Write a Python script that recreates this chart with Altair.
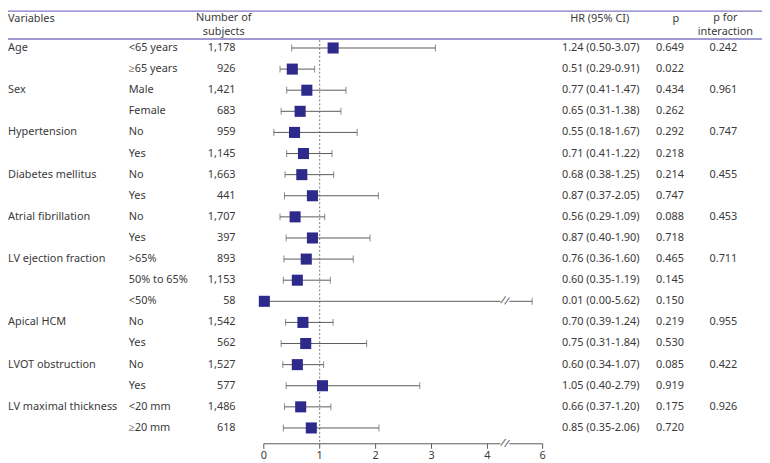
import altair as alt
import pandas as pd

# ---------------- data ----------------
variables = ["Age", "Sex", "Hypertension", "Diabetes mellitus", "Atrial fibrillation",
             "LV ejection fraction", "Apical HCM", "LVOT obstruction", "LV maximal thickness"]
group_of_row = [0, 0, 1, 1, 2, 2, 3, 3, 4, 4, 5, 5, 5, 6, 6, 7, 7, 8, 8]
subgroups = ["<65 years", "\u226565 years", "Male", "Female", "No", "Yes", "No", "Yes", "No", "Yes",
             ">65%", "50% to 65%", "<50%", "No", "Yes", "No", "Yes", "<20 mm", "\u226520 mm"]
n_subjects = ["1,178", "926", "1,421", "683", "959", "1,145", "1,663", "441", "1,707", "397",
              "893", "1,153", "58", "1,542", "562", "1,527", "577", "1,486", "618"]
hr = [1.24, 0.51, 0.77, 0.65, 0.55, 0.71, 0.68, 0.87, 0.56, 0.87, 0.76, 0.60, 0.01, 0.70, 0.75,
      0.60, 1.05, 0.66, 0.85]
ci_lo = [0.50, 0.29, 0.41, 0.31, 0.18, 0.41, 0.38, 0.37, 0.29, 0.40, 0.36, 0.35, 0.00, 0.39, 0.31,
         0.34, 0.40, 0.37, 0.35]
ci_hi = [3.07, 0.91, 1.47, 1.38, 1.67, 1.22, 1.25, 2.05, 1.09, 1.90, 1.60, 1.19, 5.62, 1.24, 1.84,
         1.07, 2.79, 1.20, 2.06]
p_values = ["0.649", "0.022", "0.434", "0.262", "0.292", "0.218", "0.214", "0.747", "0.088", "0.718",
            "0.465", "0.145", "0.150", "0.219", "0.530", "0.085", "0.919", "0.175", "0.720"]
p_interaction = ["0.242", "0.961", "0.747", "0.455", "0.453", "0.711", "0.955", "0.422", "0.926"]
tick_values = [0, 1, 2, 3, 4, 6]
tick_labels = ["0", "1", "2", "3", "4", "6"]

# ---------------- table ----------------
rows = []
for i, g in enumerate(group_of_row):
    first = (i == 0) or (group_of_row[i - 1] != g)
    rows.append({
        "row": i,
        "var": variables[g] if first else "",
        "sub": subgroups[i],
        "n": n_subjects[i],
        "hr": hr[i],
        "lo": ci_lo[i],
        "hi": ci_hi[i],
        "hrtxt": f"{hr[i]:.2f} ({ci_lo[i]:.2f}-{ci_hi[i]:.2f})",
        "p": p_values[i],
        "pint": p_interaction[g] if first else "",
    })
df = pd.DataFrame(rows)
ticks_df = pd.DataFrame({"v": tick_values, "lab": tick_labels})

W, H = 762, 455
FONT = "Noto Sans"
TXT = "#3a3a3a"
LINE = "#5a5a5a"
NAVY = "#2e2a8c"
LAV = "#8178c6"
BREAK = 4.63

xs = alt.Scale(domain=[0, 4, 6], range=[258.5, 484.5, 540.3], nice=False, zero=False)
ys = alt.Scale(domain=[0, 18], range=[38, 422], nice=False, zero=False)

base = alt.Chart(df)
X = lambda f: alt.X(f, scale=xs, axis=None)
Y = alt.Y("row:Q", scale=ys, axis=None)


def txt(field, x, align="left"):
    return base.mark_text(font=FONT, fontSize=11, color=TXT, align=align, baseline="middle").encode(
        x=alt.value(x), y=Y, text=f"{field}:N")


def header(text, x, y, align="center"):
    return alt.Chart(pd.DataFrame({"t": [text]})).mark_text(
        font=FONT, fontSize=11, color=TXT, align=align, baseline="middle").encode(
        x=alt.value(x), y=alt.value(y), text="t:N")


one = pd.DataFrame({"a": [0]})
rule_top = alt.Chart(one).mark_rule(color=LAV, strokeWidth=1.5).encode(
    x=alt.value(0), x2=alt.value(W), y=alt.value(0.75))
rule_head = alt.Chart(one).mark_rule(color=LAV, strokeWidth=1.5).encode(
    x=alt.value(0), x2=alt.value(W), y=alt.value(29))

ref_line = alt.Chart(pd.DataFrame({"v": [1]})).mark_rule(
    color="#777777", strokeDash=[2, 2], strokeWidth=1).encode(
    x=alt.X("v:Q", scale=xs, axis=None), y=alt.value(30), y2=alt.value(438))

ci = base.mark_rule(color=LINE, strokeWidth=1).encode(x=X("lo:Q"), x2="hi:Q", y=Y)
cap_lo = base.mark_tick(orient="vertical", size=7, thickness=1, color=LINE).encode(x=X("lo:Q"), y=Y)
cap_hi = base.mark_tick(orient="vertical", size=7, thickness=1, color=LINE).encode(x=X("hi:Q"), y=Y)

brk_rows = base.transform_filter("datum.hi > 4").transform_calculate(b=str(BREAK))
brk_gap = brk_rows.mark_square(color="white", size=80, opacity=1).encode(x=X("b:Q"), y=Y)
brk_txt = brk_rows.mark_text(text="//", font=FONT, fontSize=11, color=LINE, baseline="middle",
                             angle=15).encode(x=X("b:Q"), y=Y)

squares = base.mark_square(color=NAVY, size=125, opacity=1).encode(x=X("hr:Q"), y=Y)

# axis
axis_line = alt.Chart(pd.DataFrame({"a": [0], "b": [6]})).mark_rule(color=LINE, strokeWidth=1).encode(
    x=alt.X("a:Q", scale=xs, axis=None), x2="b:Q", y=alt.value(438))
axis_ticks = alt.Chart(ticks_df).mark_rule(color=LINE, strokeWidth=1).encode(
    x=alt.X("v:Q", scale=xs, axis=None), y=alt.value(438), y2=alt.value(443))
axis_labels = alt.Chart(ticks_df).mark_text(font=FONT, fontSize=11, color=TXT, baseline="middle").encode(
    x=alt.X("v:Q", scale=xs, axis=None), y=alt.value(450), text="lab:N")
axbrk = pd.DataFrame({"b": [BREAK]})
axis_gap = alt.Chart(axbrk).mark_square(color="white", size=80, opacity=1).encode(
    x=alt.X("b:Q", scale=xs, axis=None), y=alt.value(438))
axis_brk = alt.Chart(axbrk).mark_text(text="//", font=FONT, fontSize=11, color=LINE, baseline="middle",
                                      angle=15).encode(
    x=alt.X("b:Q", scale=xs, axis=None), y=alt.value(438))

chart = alt.layer(
    rule_top, rule_head, ref_line, ci, cap_lo, cap_hi, brk_gap, brk_txt, squares,
    axis_line, axis_ticks, axis_gap, axis_brk, axis_labels,
    txt("var", 0), txt("sub", 122), txt("n", 230, "right"),
    txt("hrtxt", 599, "center"), txt("p", 669, "center"), txt("pint", 723, "center"),
    header("Variables", 0, 9, "left"),
    header("Number of", 218, 8), header("subjects", 218, 22),
    header("HR (95% CI)", 598, 9), header("p", 675, 9),
    header("p for", 725, 8), header("interaction", 725, 22),
).properties(
    width=W, height=H, autosize=alt.AutoSizeParams(type="none"), padding=0
).configure_view(stroke=None)

chart.save("out.html", embed_options={"renderer": "svg", "actions": False})
